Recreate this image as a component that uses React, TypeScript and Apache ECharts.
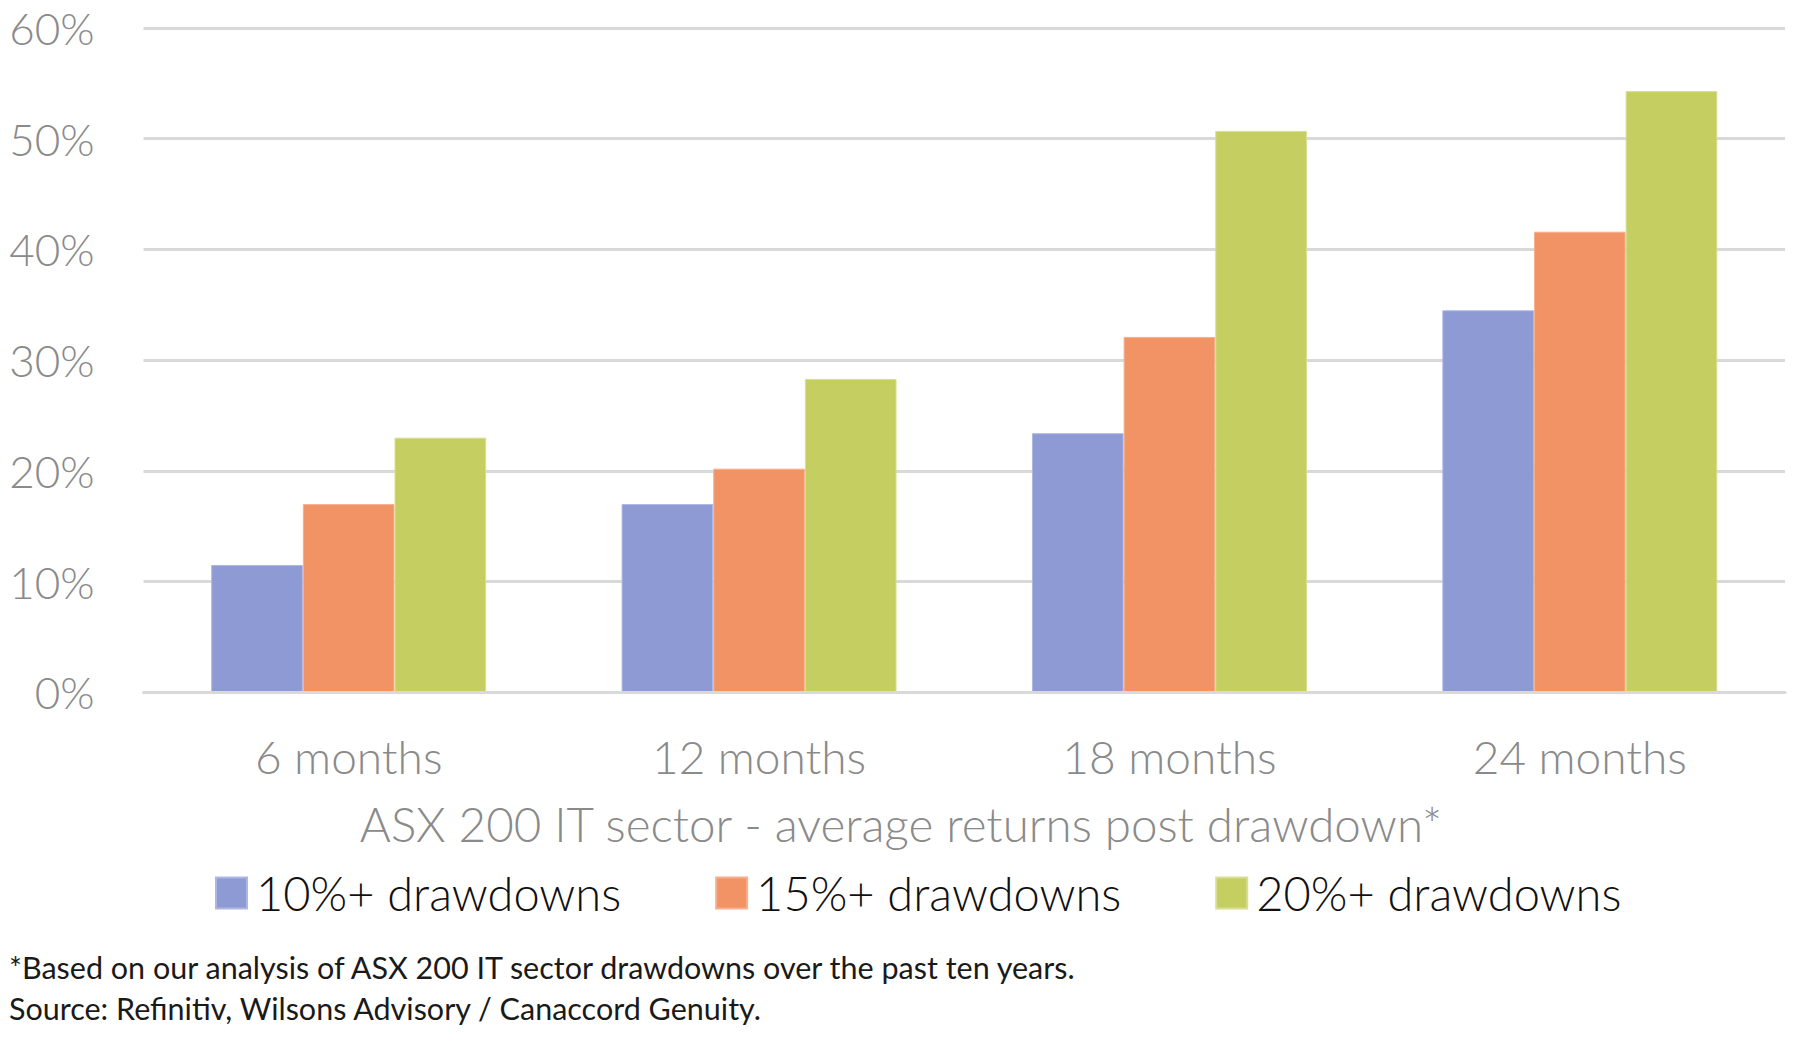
import React, { useEffect, useRef } from "react";
import * as echarts from "echarts";

const categories = ["6 months", "12 months", "18 months", "24 months"];
const seriesNames = ["10%+ drawdowns", "15%+ drawdowns", "20%+ drawdowns"];
const dd10 = [11.5, 17.0, 23.4, 34.5];
const dd15 = [17.0, 20.2, 32.1, 41.6];
const dd20 = [23.0, 28.3, 50.7, 54.3];
const colors = ["#8E9AD4", "#F29366", "#C5CE60"];
const borderColors = ["#AEB7E3", "#F6B08E", "#D8DE92"];
const axisTitle = "ASX 200 IT sector - average returns post drawdown*";
const footnotes = [
  "*Based on our analysis of ASX 200 IT sector drawdowns over the past ten years.",
  "Source: Refinitiv, Wilsons Advisory / Canaccord Genuity.",
];

const FONT = "Lato, 'Open Sans', 'Noto Sans', sans-serif";
const GRAY = "#8A8A8A";

export default function App() {
  const ref = useRef<HTMLDivElement>(null);
  useEffect(() => {
    if (!ref.current) return;
    const chart = echarts.init(ref.current, undefined, { renderer: "svg" });
    const values = [dd10, dd15, dd20];
    chart.setOption({
      animation: false,
      backgroundColor: "#ffffff",
      textStyle: { fontFamily: FONT },
      grid: { left: 143.5, right: 15, top: 28, bottom: 367.7, containLabel: false },
      legend: {
        left: 215,
        top: 869.5,
        orient: "horizontal",
        padding: 0,
        itemWidth: 31,
        itemHeight: 31,
        itemGap: 94,
        icon: "rect",
        data: seriesNames,
        textStyle: {
          fontFamily: FONT,
          fontSize: 47,
          fontWeight: 300,
          color: "#111111",
          padding: [0, 0, 0, 4],
        },
      },
      xAxis: {
        type: "category",
        data: categories,
        z: 5,
        axisLine: { show: true, lineStyle: { color: "#D9D9D9", width: 3 } },
        axisTick: { show: false },
        axisLabel: {
          margin: 41,
          fontSize: 46,
          fontWeight: 300,
          color: GRAY,
          fontFamily: FONT,
        },
      },
      yAxis: {
        type: "value",
        min: 0,
        max: 60,
        interval: 10,
        axisLine: { show: false },
        axisTick: { show: false },
        splitLine: { lineStyle: { color: "#D9D9D9", width: 3 } },
        axisLabel: {
          formatter: "{value}%",
          margin: 49,
          fontSize: 44,
          lineHeight: 40,
          fontWeight: 300,
          color: GRAY,
          fontFamily: FONT,
        },
      },
      series: seriesNames.map((name, i) => ({
        name,
        type: "bar",
        data: values[i],
        barGap: "0%",
        barCategoryGap: "33%",
        itemStyle: { color: colors[i], borderColor: borderColors[i], borderWidth: 1 },
      })),
      graphic: [
        {
          type: "text",
          x: 901,
          y: 823,
          style: {
            text: axisTitle,
            fontSize: 47.5,
            fontWeight: 300,
            fontFamily: FONT,
            fill: GRAY,
            textAlign: "center",
            textVerticalAlign: "middle",
          },
        },
        ...footnotes.map((t, i) => ({
          type: "text",
          x: 9,
          y: 967 + i * 41,
          style: {
            text: t,
            fontSize: 30.5,
            fontFamily: FONT,
            fill: "#1A1A1A",
            textAlign: "left",
            textVerticalAlign: "middle",
          },
        })),
      ],
    });
    return () => chart.dispose();
  }, []);
  return (
    <div
      ref={ref}
      style={{ position: "fixed", left: 0, top: 0, width: 1800, height: 1060, background: "#fff" }}
    />
  );
}
